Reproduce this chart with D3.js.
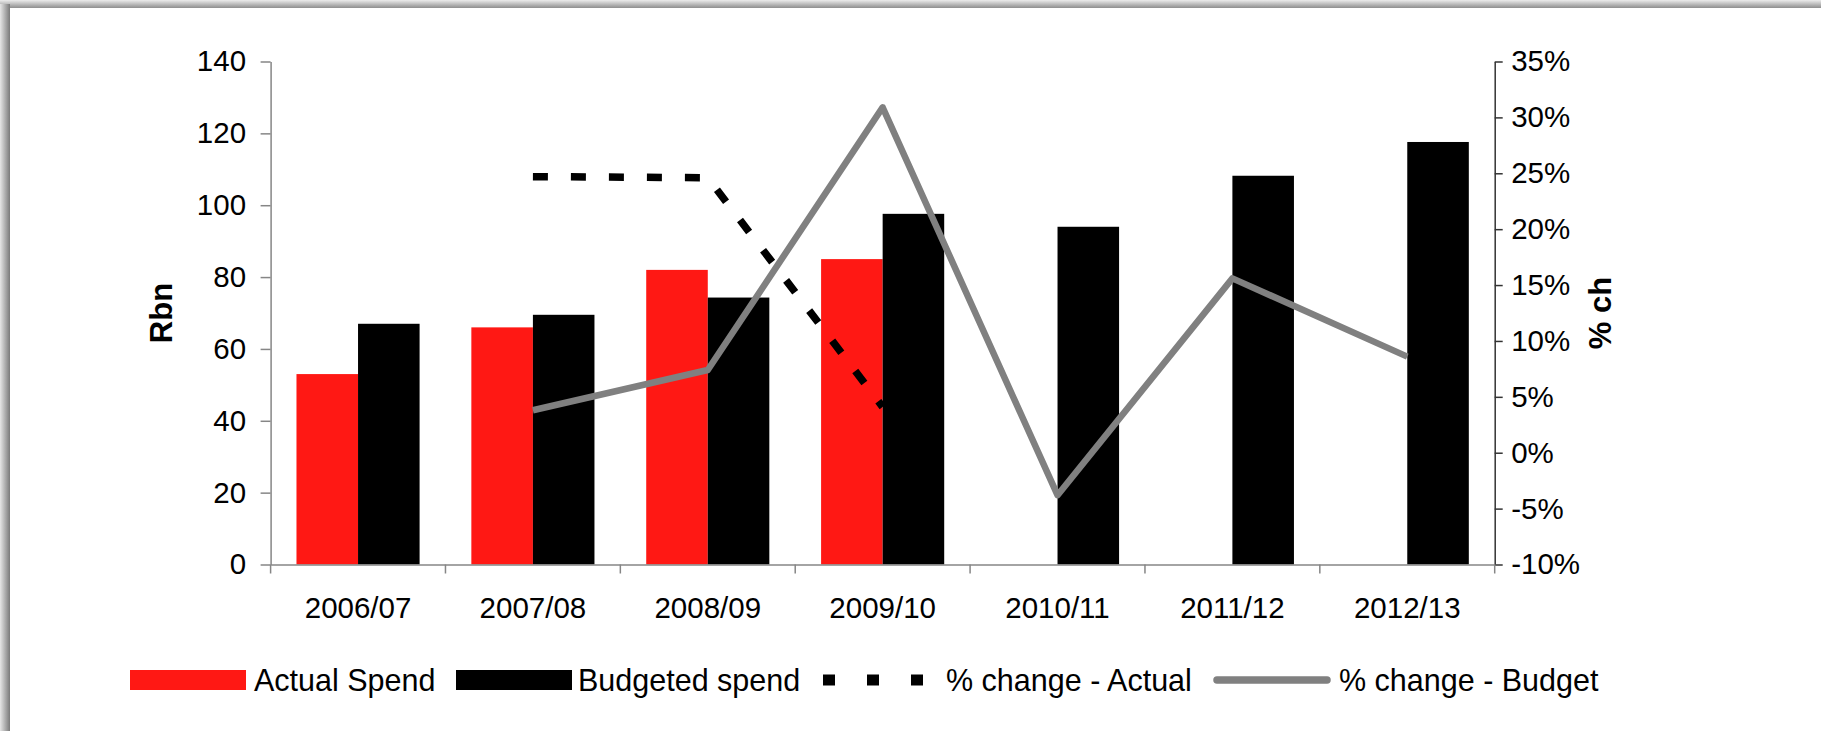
<!DOCTYPE html>
<html>
<head>
<meta charset="utf-8">
<script src="https://cdn.jsdelivr.net/npm/d3@7"></script>
<style>
  html, body { margin: 0; padding: 0; background: #fff; }
  svg { display: block; font-family: "Liberation Sans", Arial, sans-serif; }
</style>
</head>
<body>
<svg id="chart" width="1821" height="731"></svg>
<script>
// Fiscal years on the category axis
const categories = ["2006/07", "2007/08", "2008/09", "2009/10", "2010/11", "2011/12", "2012/13"];
// Spend in Rbn (left axis)
const actualSpend = [53, 66, 82, 85, null, null, null];
const budgetedSpend = [67, 69.5, 74.3, 97.6, 94, 108.2, 117.6];
// Year-on-year change in percent (right axis)
const changeActual = [null, 24.7, 24.6, 4.1, null, null, null];
const changeBudget = [null, 3.8, 7.4, 30.9, -3.8, 15.6, 8.6];
// Axis tick values
const leftTicks = [0, 20, 40, 60, 80, 100, 120, 140];
const rightTicks = [-10, -5, 0, 5, 10, 15, 20, 25, 30, 35];
// Legend labels
const legendLabels = ["Actual Spend", "Budgeted spend", "% change - Actual", "% change - Budget"];

const RED = "#FF1814", BLACK = "#000000", GREY = "#808080";

const svg = d3.select("#chart");

// Panel frame with a soft shadow on the top and left edges
const defs = svg.append("defs");
const gl = defs.append("linearGradient").attr("id", "shadowL").attr("x1", 0).attr("x2", 1).attr("y1", 0).attr("y2", 0);
gl.append("stop").attr("offset", "0%").attr("stop-color", "#e6e6e6");
gl.append("stop").attr("offset", "100%").attr("stop-color", "#7a7a7a");
const gt = defs.append("linearGradient").attr("id", "shadowT").attr("x1", 0).attr("x2", 0).attr("y1", 0).attr("y2", 1);
gt.append("stop").attr("offset", "0%").attr("stop-color", "#ececec");
gt.append("stop").attr("offset", "100%").attr("stop-color", "#8e8e8e");
svg.append("rect").attr("x", 0).attr("y", 0).attr("width", 1821).attr("height", 8).attr("fill", "url(#shadowT)");
svg.append("rect").attr("x", 0).attr("y", 4).attr("width", 10).attr("height", 727).attr("fill", "url(#shadowL)");
svg.append("rect").attr("x", 10).attr("y", 8).attr("width", 1811).attr("height", 723).attr("fill", "#fff");

// Scales
const plotLeft = 270.6, plotRight = 1494.7, plotTop = 61.5, plotBottom = 564.5;
const x = d3.scaleBand().domain(categories).range([plotLeft, plotRight]).padding(0);
const yL = d3.scaleLinear().domain([0, 140]).range([plotBottom, plotTop]);
const yR = d3.scaleLinear().domain([-10, 35]).range([plotBottom, plotTop]);

const bw = x.bandwidth() * 0.352;
const gap = (x.bandwidth() - 2 * bw) / 2;

// Bars
const barsG = svg.append("g");
barsG.selectAll("rect.actual")
  .data(categories.map((c, i) => ({ c, v: actualSpend[i] })).filter(d => d.v != null))
  .join("rect").attr("class", "actual")
  .attr("x", d => x(d.c) + gap).attr("width", bw)
  .attr("y", d => yL(d.v)).attr("height", d => yL(0) - yL(d.v))
  .attr("fill", RED);
barsG.selectAll("rect.budget")
  .data(categories.map((c, i) => ({ c, v: budgetedSpend[i] })))
  .join("rect").attr("class", "budget")
  .attr("x", d => x(d.c) + gap + bw).attr("width", bw)
  .attr("y", d => yL(d.v)).attr("height", d => yL(0) - yL(d.v))
  .attr("fill", BLACK);

// Axes
const axisGrey = "#868686";
const fs = 29.5;

const gLeft = svg.append("g").attr("transform", `translate(${plotLeft},0)`)
  .call(d3.axisLeft(yL).tickValues(leftTicks).tickSize(10).tickPadding(14.5).tickSizeOuter(0));
gLeft.select(".domain").attr("stroke", axisGrey).attr("stroke-width", 1.5);
gLeft.selectAll(".tick line").attr("stroke", axisGrey).attr("stroke-width", 1.5);
gLeft.selectAll(".tick text").attr("font-size", fs).attr("fill", "#000").attr("font-family", "Liberation Sans, Arial, sans-serif");

const gRight = svg.append("g").attr("transform", `translate(${plotRight},0)`)
  .call(d3.axisRight(yR).tickValues(rightTicks).tickSize(8).tickPadding(8.5).tickSizeOuter(0).tickFormat(d => d + "%"));
gRight.select(".domain").attr("stroke", "#333").attr("stroke-width", 1.5);
gRight.selectAll(".tick line").attr("stroke", "#333").attr("stroke-width", 1.5);
gRight.selectAll(".tick text").attr("font-size", fs).attr("fill", "#000").attr("font-family", "Liberation Sans, Arial, sans-serif");

const gBottom = svg.append("g").attr("transform", `translate(0,${plotBottom})`)
  .call(d3.axisBottom(x).tickSize(0).tickPadding(33).tickSizeOuter(0));
gBottom.select(".domain").attr("stroke", axisGrey).attr("stroke-width", 1.5);
gBottom.selectAll(".tick text").attr("font-size", fs).attr("fill", "#000").attr("font-family", "Liberation Sans, Arial, sans-serif");
// Category boundary ticks
const bounds = categories.map(c => x(c)).concat([x.range()[1]]);
gBottom.selectAll("line.bound").data(bounds).join("line").attr("class", "bound")
  .attr("x1", d => d).attr("x2", d => d).attr("y1", 0).attr("y2", 9)
  .attr("stroke", axisGrey).attr("stroke-width", 1.5);

// Percentage-change lines
const cx = c => x(c) + x.bandwidth() / 2;
const lineA = d3.line().defined(d => d.v != null).x(d => cx(d.c)).y(d => yR(d.v));
svg.append("path")
  .datum(categories.map((c, i) => ({ c, v: changeActual[i] })))
  .attr("d", lineA).attr("fill", "none")
  .attr("stroke", BLACK).attr("stroke-width", 7.5).attr("stroke-dasharray", "15,23");
svg.append("path")
  .datum(categories.map((c, i) => ({ c, v: changeBudget[i] })))
  .attr("d", lineA).attr("fill", "none")
  .attr("stroke", GREY).attr("stroke-width", 6.5).attr("stroke-linejoin", "round");

// Axis titles
svg.append("text").text("Rbn")
  .attr("transform", "translate(161,313) rotate(-90)")
  .attr("text-anchor", "middle").attr("dominant-baseline", "central")
  .attr("font-weight", "bold").attr("font-size", 31);
svg.append("text").text("% ch")
  .attr("transform", "translate(1600,313) rotate(-90)")
  .attr("text-anchor", "middle").attr("dominant-baseline", "central")
  .attr("font-weight", "bold").attr("font-size", 31);

// Legend
const legendY = 680;
const legendItems = [
  { label: legendLabels[0], kind: "bar", color: RED, x0: 130, x1: 246, tx: 254 },
  { label: legendLabels[1], kind: "bar", color: BLACK, x0: 456, x1: 572, tx: 578 },
  { label: legendLabels[2], kind: "dash", color: BLACK, x0: 823, x1: 935, tx: 946 },
  { label: legendLabels[3], kind: "line", color: GREY, x0: 1213, x1: 1331, tx: 1339 }
];
const lg = svg.append("g").selectAll("g").data(legendItems).join("g");
lg.filter(d => d.kind === "bar").append("rect")
  .attr("x", d => d.x0).attr("width", d => d.x1 - d.x0)
  .attr("y", legendY - 10).attr("height", 20).attr("fill", d => d.color);
lg.filter(d => d.kind === "dash").append("line")
  .attr("x1", d => d.x0).attr("x2", d => d.x1).attr("y1", legendY).attr("y2", legendY)
  .attr("stroke", d => d.color).attr("stroke-width", 11).attr("stroke-dasharray", "12,32");
lg.filter(d => d.kind === "line").append("line")
  .attr("x1", d => d.x0 + 4).attr("x2", d => d.x1 - 4).attr("y1", legendY).attr("y2", legendY)
  .attr("stroke", d => d.color).attr("stroke-width", 7.5).attr("stroke-linecap", "round");
lg.append("text").text(d => d.label)
  .attr("x", d => d.tx).attr("y", legendY).attr("dominant-baseline", "central")
  .attr("font-size", 30.5).attr("fill", "#000");
</script>
</body>
</html>
